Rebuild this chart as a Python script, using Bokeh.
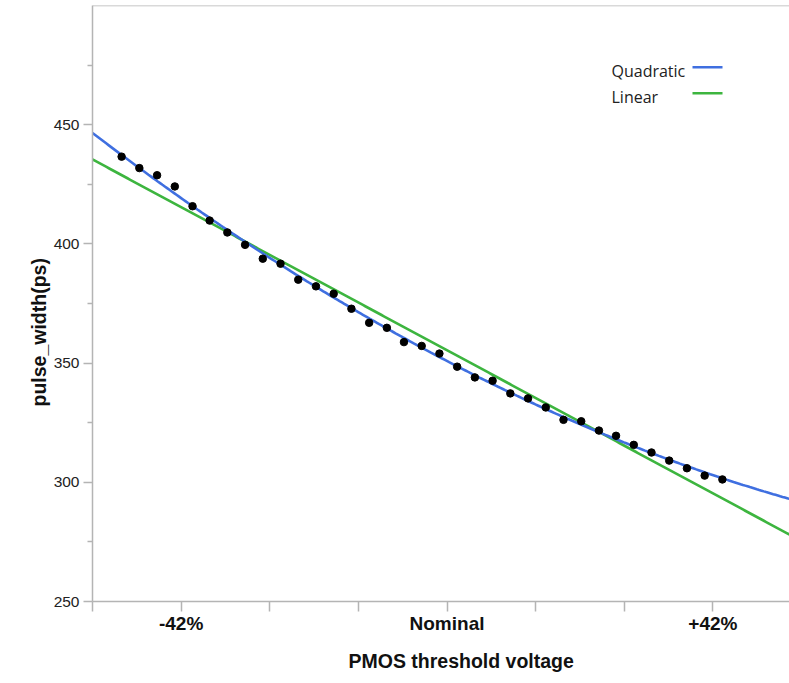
import numpy as np
from bokeh.plotting import figure
from bokeh.models import FixedTicker, Range1d, Span, Label, BoxAnnotation, Title
from bokeh.embed import file_html
from bokeh.resources import INLINE

# PMOS threshold-voltage sweep (percent of nominal) and measured pulse width (ps)
vth_shift = [-51.4, -48.6, -45.8, -43.0, -40.2, -37.5, -34.7, -31.9, -29.1, -26.3,
             -23.5, -20.7, -17.9, -15.1, -12.3, -9.5, -6.8, -4.0, -1.2, 1.6,
             4.4, 7.2, 10.0, 12.8, 15.6, 18.4, 21.2, 24.0, 26.7, 29.5,
             32.3, 35.1, 37.9, 40.7, 43.5]
pulse_width = [436.6, 431.8, 428.8, 424.1, 415.8, 409.8, 404.8, 399.6, 393.8, 391.7,
               385.0, 382.2, 379.1, 372.8, 366.9, 364.8, 358.8, 357.2, 354.0, 348.5,
               344.0, 342.6, 337.3, 335.2, 331.4, 326.2, 325.6, 321.7, 319.5, 315.7,
               312.5, 309.1, 305.9, 302.8, 301.2]

x_ticks = [-56, -42, -28, -14, 0, 14, 28, 42]
x_tick_labels = {-56: "", -42: "-42%", -28: "", -14: "", 0: "Nominal", 14: "", 28: "", 42: "+42%"}
y_ticks = [250, 300, 350, 400, 450]
y_minor = [275, 325, 375, 425, 475]

x_lo, x_hi = -56, 54.1
y_lo, y_hi = 250, 500

BLUE = "#3f6fe0"
GREEN = "#3db53f"
AXIS_GREY = "#b4b4b4"
TEXT = "#111111"

W, H = 789, 683
LEFT, TOP, BOTTOM = 92, 5, 82

p = figure(width=W, height=H, output_backend="svg", toolbar_location=None,
           x_range=Range1d(x_lo, x_hi), y_range=Range1d(y_lo, y_hi),
           min_border_left=LEFT, min_border_right=0, min_border_top=TOP,
           min_border_bottom=BOTTOM)
p.outline_line_color = None
p.grid.visible = False
p.background_fill_color = "white"
p.border_fill_color = "white"

# fitted curves over the full axis extent
xs = np.linspace(x_lo, x_hi, 300)
quad = np.poly1d(np.polyfit(vth_shift, pulse_width, 2))
lin = np.poly1d(np.polyfit(vth_shift, pulse_width, 1))
p.line(xs, lin(xs), line_color=GREEN, line_width=2.6)
p.line(xs, quad(xs), line_color=BLUE, line_width=2.6)
p.scatter(vth_shift, pulse_width, size=7.5, color="black")

# top frame edge
p.add_layout(Span(location=y_hi, dimension="width", line_color=AXIS_GREY, line_width=1.5))

# x axis
xa = p.xaxis[0]
xa.ticker = FixedTicker(ticks=x_ticks)
xa.major_label_overrides = x_tick_labels
xa.axis_line_color = AXIS_GREY
xa.axis_line_width = 1.5
xa.major_tick_line_color = AXIS_GREY
xa.major_tick_line_width = 1.5
xa.major_tick_in = 0
xa.major_tick_out = 10
xa.minor_tick_line_color = None
xa.major_label_text_font = "Liberation Sans"
xa.major_label_text_font_style = "bold"
xa.major_label_text_font_size = "19px"
xa.major_label_text_color = TEXT
xa.major_label_standoff = 1

# y axis
ya = p.yaxis[0]
ya.ticker = FixedTicker(ticks=y_ticks, minor_ticks=y_minor)
ya.axis_line_color = AXIS_GREY
ya.axis_line_width = 1.5
ya.major_tick_line_color = AXIS_GREY
ya.major_tick_line_width = 1.5
ya.major_tick_in = 0
ya.major_tick_out = 9
ya.minor_tick_line_color = AXIS_GREY
ya.minor_tick_line_width = 1.5
ya.minor_tick_in = 0
ya.minor_tick_out = 5
ya.major_label_text_font = "Liberation Sans"
ya.major_label_text_font_size = "15.5px"
ya.major_label_text_color = "#222222"
ya.major_label_standoff = 4

# axis titles, set in the side panels
p.add_layout(Title(text="PMOS threshold voltage", text_font="Liberation Sans",
                   text_font_style="bold", text_font_size="19.5px", text_color=TEXT,
                   align="left", offset=256, standoff=22), "below")
p.add_layout(Title(text="pulse_width(ps)", text_font="Liberation Sans",
                   text_font_style="bold", text_font_size="19.5px", text_color=TEXT,
                   align="left", offset=195, standoff=2), "left")

# legend: label followed by a line sample
legend_entries = [("Quadratic", BLUE), ("Linear", GREEN)]
for i, (name, col) in enumerate(legend_entries):
    top = 70 + 26 * i
    p.add_layout(Label(x=611 - LEFT, y=(H - BOTTOM) - top, x_units="screen", y_units="screen",
                       text=name, text_font="Open Sans", text_font_size="16px",
                       text_color="#222222", text_baseline="middle"))
    p.add_layout(BoxAnnotation(left=692 - LEFT, right=722 - LEFT,
                               top=(H - BOTTOM) - top + 4.5,
                               bottom=(H - BOTTOM) - top + 2,
                               left_units="screen", right_units="screen",
                               top_units="screen", bottom_units="screen",
                               fill_color=col, fill_alpha=1, line_color=None))

open("out.html", "w").write(file_html(p, INLINE))
